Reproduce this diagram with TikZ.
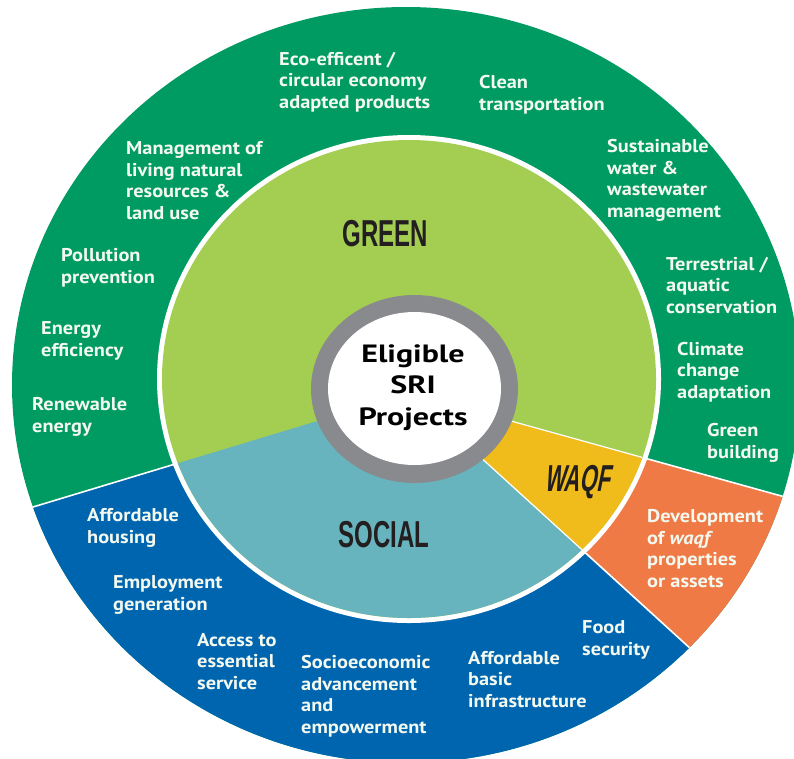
\documentclass[tikz,border=0pt]{standalone}
\usepackage{fontspec}
\setmainfont{PT Sans}
\newfontfamily\labfont[FakeStretch=1.1]{PT Sans}
\newfontfamily\headfont[FakeStretch=0.64]{Liberation Sans}
\newfontfamily\waqffont[FakeStretch=0.58,FakeSlant=0.2]{Liberation Sans}
\newfontfamily\centfont[FakeStretch=1.28]{PT Sans}
\definecolor{dkgreen}{RGB}{0,155,98}
\definecolor{ltgreen}{RGB}{163,206,82}
\definecolor{socteal}{RGB}{104,180,190}
\definecolor{socblue}{RGB}{0,101,175}
\definecolor{waqfyel}{RGB}{240,188,28}
\definecolor{waqforange}{RGB}{240,122,70}
\definecolor{ringgray}{RGB}{137,138,141}
\definecolor{headink}{RGB}{35,31,32}
\definecolor{labink}{RGB}{244,249,240}
\begin{document}
\begin{tikzpicture}[x=1pt,y=-1pt,
  lab/.style={font=\labfont\bfseries\fontsize{18.5}{21.5}\selectfont, text=labink, align=left, inner sep=0pt, anchor=base west},
  head/.style={font=\headfont\bfseries\fontsize{37.5}{40}\selectfont, text=headink, inner sep=0pt},
  sep/.style={white, line width=1.6pt}]
\useasboundingbox (0,0) rectangle (794,758);
\coordinate (O) at (410,393);
\coordinate (Af) at (-344,621);
\coordinate (Bf) at (1160,601);
\coordinate (Cf) at (974,907);
% outer ring
\begin{scope}
  \clip (406,385) ellipse [x radius=394, y radius=378];
  \fill[dkgreen] (-10,-10) rectangle (810,810);
  \fill[socblue] (O) -- (Af) -- (-344,1000) -- (974,1000) -- (Cf) -- cycle;
  \fill[waqforange] (O) -- (Bf) -- (1160,907) -- (Cf) -- cycle;
  \draw[sep] (O) -- (Af) (O) -- (Bf) (O) -- (Cf);
\end{scope}
% inner disk
\fill[white] (409,379) ellipse [x radius=252, y radius=244];
\begin{scope}
  \clip (409,379) ellipse [x radius=247, y radius=239];
  \fill[ltgreen] (-10,-10) rectangle (810,810);
  \fill[socteal] (O) -- (Af) -- (-344,1000) -- (974,1000) -- (Cf) -- cycle;
  \fill[waqfyel] (O) -- (Bf) -- (1160,907) -- (Cf) -- cycle;
  \draw[white, line width=1.2pt] (O) -- (Bf) (O) -- (Cf);
\end{scope}
% centre
\fill[ringgray] (414.5,389) ellipse [x radius=103.5, y radius=94];
\fill[white] (414.5,388.5) ellipse [x radius=86.5, y radius=76.5];
\node[font=\centfont\bfseries\fontsize{25}{31.5}\selectfont, align=center, inner sep=0pt, anchor=base] (ctr) at (413,425) {Eligible\\SRI\\Projects};
% headings
\node[head] (green) at (385,233.5) {GREEN};
\node[head] (social) at (384,535) {SOCIAL};
\node[head, font=\waqffont\bfseries\fontsize{37.5}{40}\selectfont] (waqf) at (577,482) {WAQF};
% green labels (anchored at the baseline of the last line)
\node[lab] (eco) at (279,108) {Eco-efficent /\\circular economy\\adapted products};
\node[lab] (clean) at (479,110) {Clean\\transportation};
\node[lab] (mgmt) at (126,219) {Management of\\living natural\\resources \&\\land use};
\node[lab] (water) at (607,217) {Sustainable\\water \&\\wastewater\\management};
\node[lab] (poll) at (61,283) {Pollution\\prevention};
\node[lab] (terr) at (666,313) {Terrestrial /\\aquatic\\conservation};
\node[lab] (energy) at (41,356) {Energy\\efficiency};
\node[lab] (climate) at (677,398) {Climate\\change\\adaptation};
\node[lab] (renew) at (32,432) {Renewable\\energy};
\node[lab] (gbuild) at (707,458) {Green\\building};
% social labels
\node[lab] (house) at (87,543) {Affordable\\housing};
\node[lab] (employ) at (113,610) {Employment\\generation};
\node[lab] (access) at (197,689) {Access to\\essential\\service};
\node[lab] (socio) at (301,733) {Socioeconomic\\advancement\\and\\empowerment};
\node[lab] (infra) at (468,707) {Affordable\\basic\\infrastructure};
\node[lab] (food) at (582,655) {Food\\security};
% waqf label
\node[lab] (dev) at (647,587) {Development\\of \textit{waqf}\\properties\\or assets};
\end{tikzpicture}
\end{document}
